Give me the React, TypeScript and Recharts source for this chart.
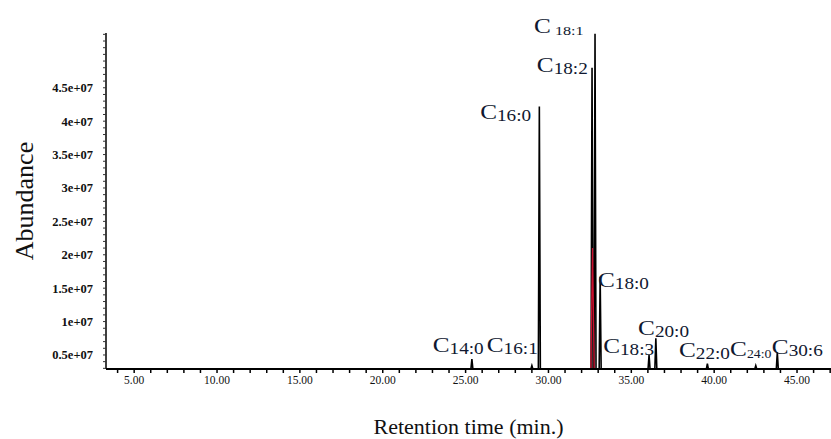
import React from "react";
import {
  ComposedChart,
  Line,
  Scatter,
  XAxis,
  YAxis,
  Label,
} from "recharts";

// retention time (min) and abundance of each peak
const PEAK_NAMES = ["14:0", "16:1", "16:0", "18:2", "18:1", "18:0", "18:3", "20:0", "22:0", "24:0", "30:6"];
const PEAK_TIMES = [25.38, 29.0, 29.45, 32.63, 32.81, 33.12, 36.07, 36.48, 39.59, 42.51, 43.81];
const PEAK_HEIGHTS = [4.4e6, 3.4e6, 4.22e7, 4.8e7, 5.31e7, 1.67e7, 5.0e6, 7.5e6, 3.7e6, 3.4e6, 5.4e6];

// second (red) trace: marks at the baseline plus one peak under C18:2
const RED_MARK_TIMES = [25.38, 29.0, 29.45, 36.07, 36.48, 39.59, 42.51, 43.81];
const RED_PEAK_TIME = 32.66;
const RED_PEAK_HEIGHT = 2.1e7;

// where each peak's name is written (left edge time, baseline abundance)
const LABEL_SUBS = ["14:0", "16:1", "16:0", "18:2", " 18:1", "18:0", "18:3", "20:0", "22:0", "24:0", "30:6"];
const LABEL_TIMES = [23.02, 26.28, 25.88, 29.3, 29.13, 32.99, 33.3, 35.41, 37.88, 40.96, 43.48];
const LABEL_VALUES = [5.49e6, 5.49e6, 4.04e7, 4.73e7, 5.32e7, 1.52e7, 5.3e6, 7.95e6, 4.75e6, 4.85e6, 5.1e6];

const X_LABELS = [5, 10, 15, 20, 25, 30, 35, 40, 45];
const Y_TICKS = [5e6, 1e7, 1.5e7, 2e7, 2.5e7, 3e7, 3.5e7, 4e7, 4.5e7];
const Y_LABELS = ["0.5e+07", "1e+07", "1.5e+07", "2e+07", "2.5e+07", "3e+07", "3.5e+07", "4e+07", "4.5e+07"];

const X_MIN = 3.3;
const X_MAX = 47.05;
const BASE = 2.9e6;
const Y_MAX = 5.31e7;
const HALF = 0.06;

const blackTrace: { t: number; y: number }[] = [{ t: X_MIN, y: BASE }];
PEAK_TIMES.forEach((t, i) => {
  blackTrace.push({ t: t - HALF, y: BASE });
  blackTrace.push({ t, y: PEAK_HEIGHTS[i] });
  blackTrace.push({ t: t + HALF, y: BASE });
});
blackTrace.push({ t: X_MAX, y: BASE });

const redTrace: { t: number; y: number | null }[] = [];
RED_MARK_TIMES.forEach((t) => {
  redTrace.push({ t: t - 0.12, y: BASE });
  redTrace.push({ t: t + 0.12, y: BASE });
  redTrace.push({ t: t + 0.13, y: null });
});
redTrace.push({ t: RED_PEAK_TIME - 0.1, y: BASE });
redTrace.push({ t: RED_PEAK_TIME, y: RED_PEAK_HEIGHT });
redTrace.push({ t: RED_PEAK_TIME + 0.1, y: BASE });
redTrace.sort((a, b) => a.t - b.t);

const labels = LABEL_SUBS.map((sub, i) => ({ t: LABEL_TIMES[i], v: LABEL_VALUES[i], sub }));

const xTicks = Array.from({ length: 44 }, (_, i) => i + 4);
const yTicks = Array.from({ length: 51 }, (_, i) => 3e6 + i * 1e6);

const SERIF = "'Liberation Serif', 'Times New Roman', serif";
const SUB_SIZE: Record<string, number> = { " 18:1": 13.5, "24:0": 11.5 };

function PeakLabel(props: any) {
  const { cx, cy, payload } = props;
  return (
    <g transform={`translate(${cx},${cy}) scale(1.2,1)`}>
      <text x={0} y={0} fill="#101830" fontFamily={SERIF} style={{ whiteSpace: "pre" }}>
        <tspan fontSize={21}>C</tspan>
        <tspan fontSize={SUB_SIZE[payload.sub] ?? 16} dy={2}>
          {payload.sub}
        </tspan>
      </text>
    </g>
  );
}

function YTitle(props: any) {
  const vb = props.viewBox;
  const x = 33;
  const y = vb.y + vb.height / 2;
  return (
    <text
      x={x}
      y={y}
      transform={`rotate(-90 ${x} ${y})`}
      textAnchor="middle"
      fontFamily={SERIF}
      fontSize={26}
      fill="#111"
    >
      Abundance
    </text>
  );
}

export default function App() {
  return (
    <div style={{ position: "absolute", left: 0, top: 0, background: "#fff" }}>
      <ComposedChart
        width={831}
        height={439}
        margin={{ top: 33, right: 0, bottom: 0, left: 0 }}
      >
        <XAxis
          type="number"
          dataKey="t"
          domain={[X_MIN, X_MAX]}
          ticks={xTicks}
          interval={0}
          tickFormatter={(v: number) => (X_LABELS.includes(v) ? v.toFixed(2) : "")}
          tick={{ fontSize: 11.5, fill: "#111", fontFamily: SERIF }}
          tickSize={4}
          tickMargin={3}
          axisLine={{ stroke: "#000", strokeWidth: 2 }}
          tickLine={{ stroke: "#000", strokeWidth: 1.5 }}
          height={70}
        >
          <Label
            value="Retention time (min.)"
            position="insideBottom"
            offset={5}
            style={{ fontFamily: SERIF, fontSize: 22, fill: "#111" }}
          />
        </XAxis>
        <YAxis
          type="number"
          domain={[BASE, Y_MAX]}
          ticks={yTicks}
          interval={0}
          width={106}
          tickFormatter={(v: number) => {
            const i = Y_TICKS.indexOf(v);
            return i >= 0 ? Y_LABELS[i] : "";
          }}
          tick={{ fontSize: 12.5, fill: "#111", fontFamily: SERIF, fontWeight: "bold" }}
          tickSize={3}
          tickMargin={10}
          axisLine={{ stroke: "#000", strokeWidth: 1.5 }}
          tickLine={{ stroke: "#333", strokeWidth: 1 }}
        >
          <Label content={YTitle} />
        </YAxis>
        <Line
          data={blackTrace}
          dataKey="y"
          type="linear"
          stroke="#000"
          strokeWidth={1.6}
          dot={false}
          activeDot={false}
          isAnimationActive={false}
        />
        <Line
          data={redTrace}
          dataKey="y"
          type="linear"
          stroke="#c8102e"
          strokeWidth={1.3}
          dot={false}
          activeDot={false}
          connectNulls={false}
          isAnimationActive={false}
        />
        <Scatter data={labels} dataKey="v" shape={PeakLabel} isAnimationActive={false} />
      </ComposedChart>
    </div>
  );
}
